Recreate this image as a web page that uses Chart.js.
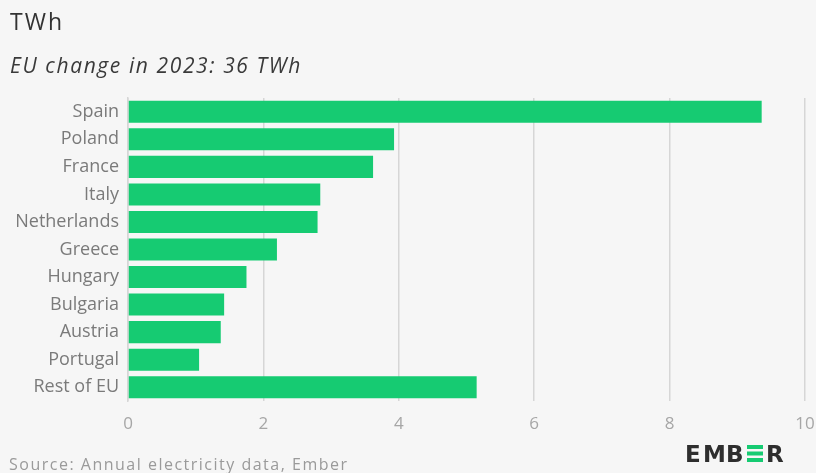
<!DOCTYPE html>
<html>
<head>
<meta charset="utf-8">
<script src="https://cdn.jsdelivr.net/npm/chart.js@4"></script>
<style>
    html, body { margin: 0; padding: 0; background: #f6f6f6; }
    #wrap { width: 816px; height: 473px; position: relative; }
</style>
</head>
<body>
<div id="wrap"><canvas id="grafico" width="816" height="473"></canvas></div>
<script>
// dados
let paises = ["Spain", "Poland", "France", "Italy", "Netherlands", "Greece", "Hungary", "Bulgaria", "Austria", "Portugal", "Rest of EU"];
let variacao = [9.36, 3.93, 3.62, 2.84, 2.80, 2.20, 1.75, 1.42, 1.37, 1.05, 5.15];
let eixoMin = 0;
let eixoMax = 10;
let passo = 2;

let titulo = "TWh";
let subtitulo = "EU change in 2023: 36 TWh";
let fonte = "Source: Annual electricity data, Ember";

let verde = "#16cb72";
let fam = "'Open Sans', sans-serif";

// textos fora da area do grafico + logo
let textosExtras = {
    id: "textosExtras",
    afterDraw: function (chart) {
        let ctx = chart.ctx;
        ctx.save();
        ctx.textBaseline = "middle";
        ctx.textAlign = "left";

        ctx.fillStyle = "#333333";
        ctx.font = "23px " + fam;
        ctx.letterSpacing = "2px";
        ctx.fillText(titulo, 10, 23);

        ctx.font = "italic 21px " + fam;
        ctx.letterSpacing = "1.6px";
        ctx.fillStyle = "#3a3a3a";
        ctx.fillText(subtitulo, 10, 67);

        ctx.font = "16px " + fam;
        ctx.letterSpacing = "1.5px";
        ctx.fillStyle = "#9a9a9a";
        ctx.fillText(fonte, 9, 465);

        // logo EMBER (letra a letra)
        ctx.letterSpacing = "0px";
        ctx.textBaseline = "alphabetic";
        ctx.fillStyle = "#2e2e2e";
        ctx.font = "bold 23px 'DejaVu Sans', sans-serif";
        ctx.fillText("E", 685, 462);
        ctx.fillText("M", 703, 462);
        ctx.fillText("B", 726, 462);
        ctx.fillText("R", 766, 462);
        ctx.fillStyle = verde;
        for (let i = 0; i < 3; i++) {
            ctx.fillRect(747, 445 + i * 6.5, 16, 4);
        }
        ctx.restore();
    }
};

window.onload = function () {
    let el = document.getElementById("grafico").getContext("2d");
    new Chart(el, {
        type: "bar",
        data: {
            labels: paises,
            datasets: [{
                label: "TWh",
                data: variacao,
                backgroundColor: verde,
                borderWidth: 0,
                barPercentage: 0.8,
                categoryPercentage: 1
            }]
        },
        options: {
            indexAxis: "y",
            responsive: false,
            animation: false,
            layout: {
                padding: { left: 0, right: 11, top: 98, bottom: 44 }
            },
            plugins: {
                legend: { display: false },
                tooltip: { enabled: false }
            },
            scales: {
                x: {
                    min: eixoMin,
                    max: eixoMax,
                    ticks: {
                        stepSize: passo,
                        color: "#a6a6a6",
                        font: { family: fam, size: 17 },
                        padding: 13
                    },
                    grid: {
                        color: "#d6d6d6",
                        lineWidth: 1.5,
                        drawTicks: false
                    },
                    border: { display: false },
                    afterFit: function (eixo) {
                        eixo.height = 28;
                        eixo.paddingLeft = 0;
                        eixo.paddingRight = 0;
                    }
                },
                y: {
                    ticks: {
                        color: "#7a7a7a",
                        font: { family: fam, size: 18 },
                        padding: 9
                    },
                    grid: { display: false, drawTicks: false },
                    border: { display: true, color: "#d6d6d6", width: 1.5 },
                    afterFit: function (eixo) { eixo.width = 128; }
                }
            }
        },
        plugins: [textosExtras]
    });
};
</script>
</body>
</html>
